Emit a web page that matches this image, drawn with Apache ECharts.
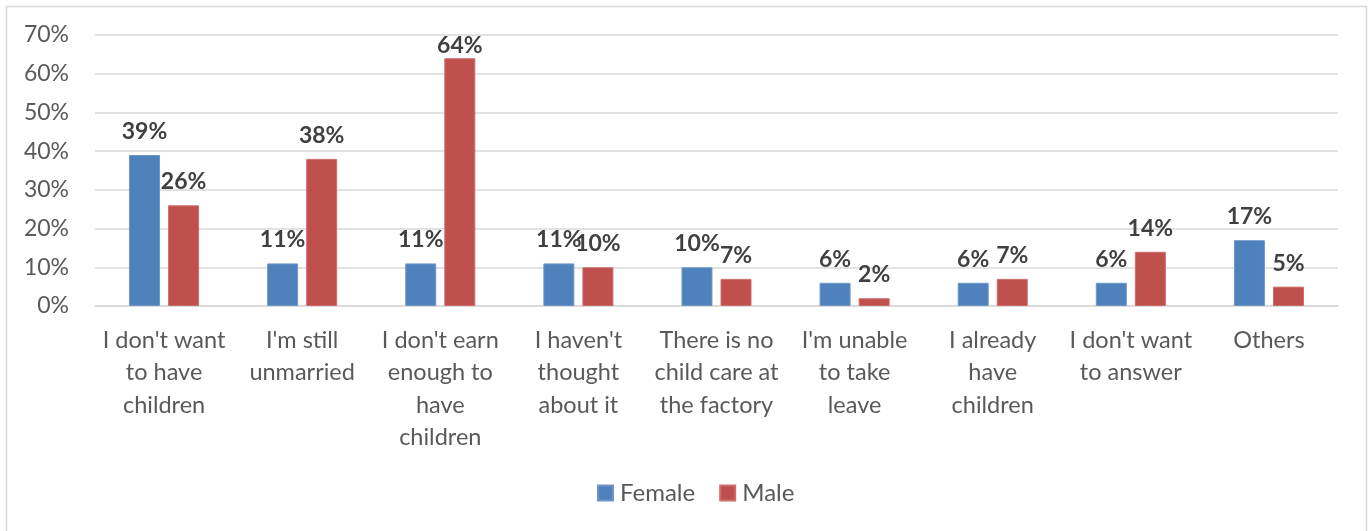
<!DOCTYPE html>
<html>
<head>
<meta charset="utf-8">
<script src="https://cdn.jsdelivr.net/npm/echarts@6/dist/echarts.min.js"></script>
<style>
  html, body { margin: 0; padding: 0; background: #fff; }
  #chart { width: 1370px; height: 531px; }
</style>
</head>
<body>
<div id="chart"></div>
<script>
// Reasons for not having children, by gender (share of respondents, %)
const categories = [
  "I don't want\nto have\nchildren",
  "I'm still\nunmarried",
  "I don't earn\nenough to\nhave\nchildren",
  "I haven't\nthought\nabout it",
  "There is no\nchild care at\nthe factory",
  "I'm unable\nto take\nleave",
  "I already\nhave\nchildren",
  "I don't want\nto answer",
  "Others"
];
const female = [39, 11, 11, 11, 10, 6, 6, 6, 17];
const male   = [26, 38, 64, 10, 7, 2, 7, 14, 5];
const yTicks = [0, 10, 20, 30, 40, 50, 60, 70];
const Y_MAX = 70;

const FONT = 'Lato, "Open Sans", sans-serif';

const chart = echarts.init(document.getElementById('chart'), null, { renderer: 'canvas' });

const labelStyle = {
  show: true,
  position: 'top',
  distance: 12,
  formatter: p => p.value + '%',
  fontFamily: FONT,
  fontSize: 23,
  fontWeight: 'bold',
  color: '#404040'
};

// keep value labels of the tallest bars inside the plot area
const withLabelFit = arr => arr.map(v =>
  v > Y_MAX - 8 ? { value: v, label: { distance: 1 } } : v);

chart.setOption({
  animation: false,
  backgroundColor: '#ffffff',
  graphic: [{
    type: 'rect',
    silent: true,
    shape: { x: 6.5, y: 6.5, width: 1360, height: 540 },
    style: { fill: 'none', stroke: '#d9d9d9', lineWidth: 1.5 }
  }],
  grid: { left: 95, right: 32, top: 35, bottom: 225, containLabel: false },
  legend: {
    data: ['Female', 'Male'],
    bottom: 21,
    left: 592,
    itemWidth: 15,
    itemHeight: 15,
    itemGap: 24,
    icon: 'rect',
    textStyle: { fontFamily: FONT, fontSize: 24, color: '#595959', padding: [0, 0, 0, 2] }
  },
  xAxis: {
    type: 'category',
    data: categories,
    axisLine: { show: true, lineStyle: { color: '#d9d9d9', width: 1.5 } },
    axisTick: { show: false },
    axisLabel: {
      interval: 0,
      margin: 18,
      fontFamily: FONT,
      fontSize: 23.5,
      lineHeight: 32.5,
      color: '#595959',
      align: 'center',
      verticalAlign: 'top'
    }
  },
  yAxis: {
    type: 'value',
    min: 0,
    max: Y_MAX,
    interval: 10,
    axisLine: { show: false },
    axisTick: { show: false },
    splitLine: { lineStyle: { color: '#d9d9d9', width: 1.5 } },
    axisLabel: {
      margin: 26,
      fontFamily: FONT,
      fontSize: 23,
      color: '#595959',
      formatter: v => (yTicks.includes(v) ? v + '%' : '')
    }
  },
  series: [
    {
      name: 'Female',
      type: 'bar',
      data: withLabelFit(female),
      barWidth: 31,
      barGap: '26%',
      itemStyle: { color: '#4f81bd', borderColor: '#6e97c8', borderWidth: 1 },
      label: labelStyle
    },
    {
      name: 'Male',
      type: 'bar',
      data: withLabelFit(male),
      barWidth: 31,
      itemStyle: { color: '#c0504d', borderColor: '#cc6d6a', borderWidth: 1 },
      label: labelStyle
    }
  ]
});
</script>
</body>
</html>
